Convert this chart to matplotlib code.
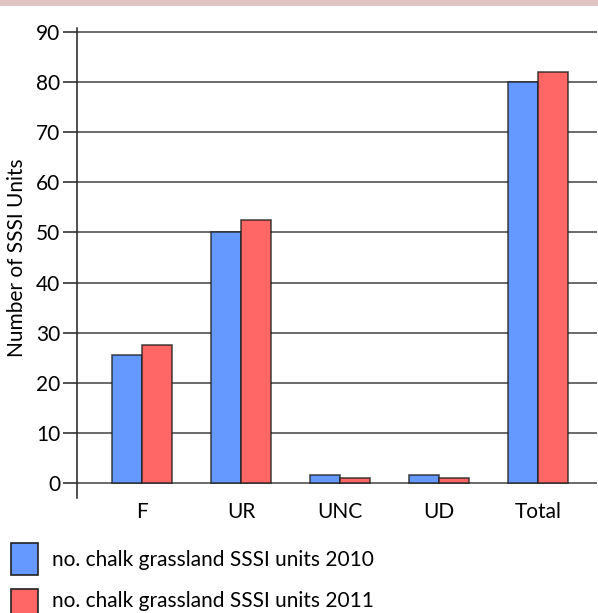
import matplotlib
matplotlib.use("Agg")
import matplotlib.pyplot as plt
from matplotlib.patches import Rectangle
import numpy as np

categories = ["F", "UR", "UNC", "UD", "Total"]
units_2010 = [25.5, 50, 1.5, 1.5, 80]
units_2011 = [27.5, 52.5, 1, 1, 82]
yticks = [0, 10, 20, 30, 40, 50, 60, 70, 80, 90]
legend_labels = ["no. chalk grassland SSSI units 2010", "no. chalk grassland SSSI units 2011"]

blue = "#6699ff"
red = "#ff6666"
edge = (0.1, 0.1, 0.1, 0.75)
fs = 15

plt.rcParams["font.family"] = ["Lato", "DejaVu Sans"]

fig = plt.figure(figsize=(5.98, 6.13), dpi=100)
fig.patches.append(Rectangle((0, 1 - 6 / 613), 1, 6 / 613, transform=fig.transFigure,
                             facecolor="#e0c4c4", edgecolor="none"))

ax = fig.add_axes([77 / 598, (613 - 498) / 613, 520 / 598, (498 - 28) / 613])
x = np.arange(len(categories))
w = 0.303
ax.bar(x - w / 2, units_2010, width=w, color=blue, edgecolor=edge, linewidth=1.2, zorder=3)
ax.bar(x + w / 2, units_2011, width=w, color=red, edgecolor=edge, linewidth=1.2, zorder=3)

ax.set_xlim(-0.657, 4.596)
ax.set_ylim(-3.0, 90.8)
ax.set_yticks(yticks)
for t in yticks:
    ax.axhline(t, color="#222222", linewidth=1.1, alpha=0.85, zorder=2)

ax.set_xticks(x)
ax.set_xticklabels(categories, fontsize=fs)
ax.tick_params(axis="x", length=0, pad=3)
ax.tick_params(axis="y", length=10, width=1.1, color="#222222", labelsize=fs, pad=2)

for s in ["top", "right", "bottom"]:
    ax.spines[s].set_visible(False)
ax.spines["left"].set_color("#222222")
ax.spines["left"].set_linewidth(1.1)

ax.set_ylabel("Number of SSSI Units", fontsize=fs)
ax.yaxis.set_label_coords((27 - 77) / 520, (498 - 258) / 470)

# legend swatches and labels
swatch_tops = [543, 589]
text_baselines = [566, 607]
for lab, col, top, base in zip(legend_labels, [blue, red], swatch_tops, text_baselines):
    fig.patches.append(Rectangle((11 / 598, 1 - (top + 32) / 613), 27 / 598, 32 / 613,
                                 transform=fig.transFigure, facecolor=col,
                                 edgecolor="#222222", linewidth=1.2))
    fig.text(52 / 598, 1 - base / 613, lab, fontsize=fs, va="baseline", ha="left")

fig.savefig("out.png", dpi=100)
